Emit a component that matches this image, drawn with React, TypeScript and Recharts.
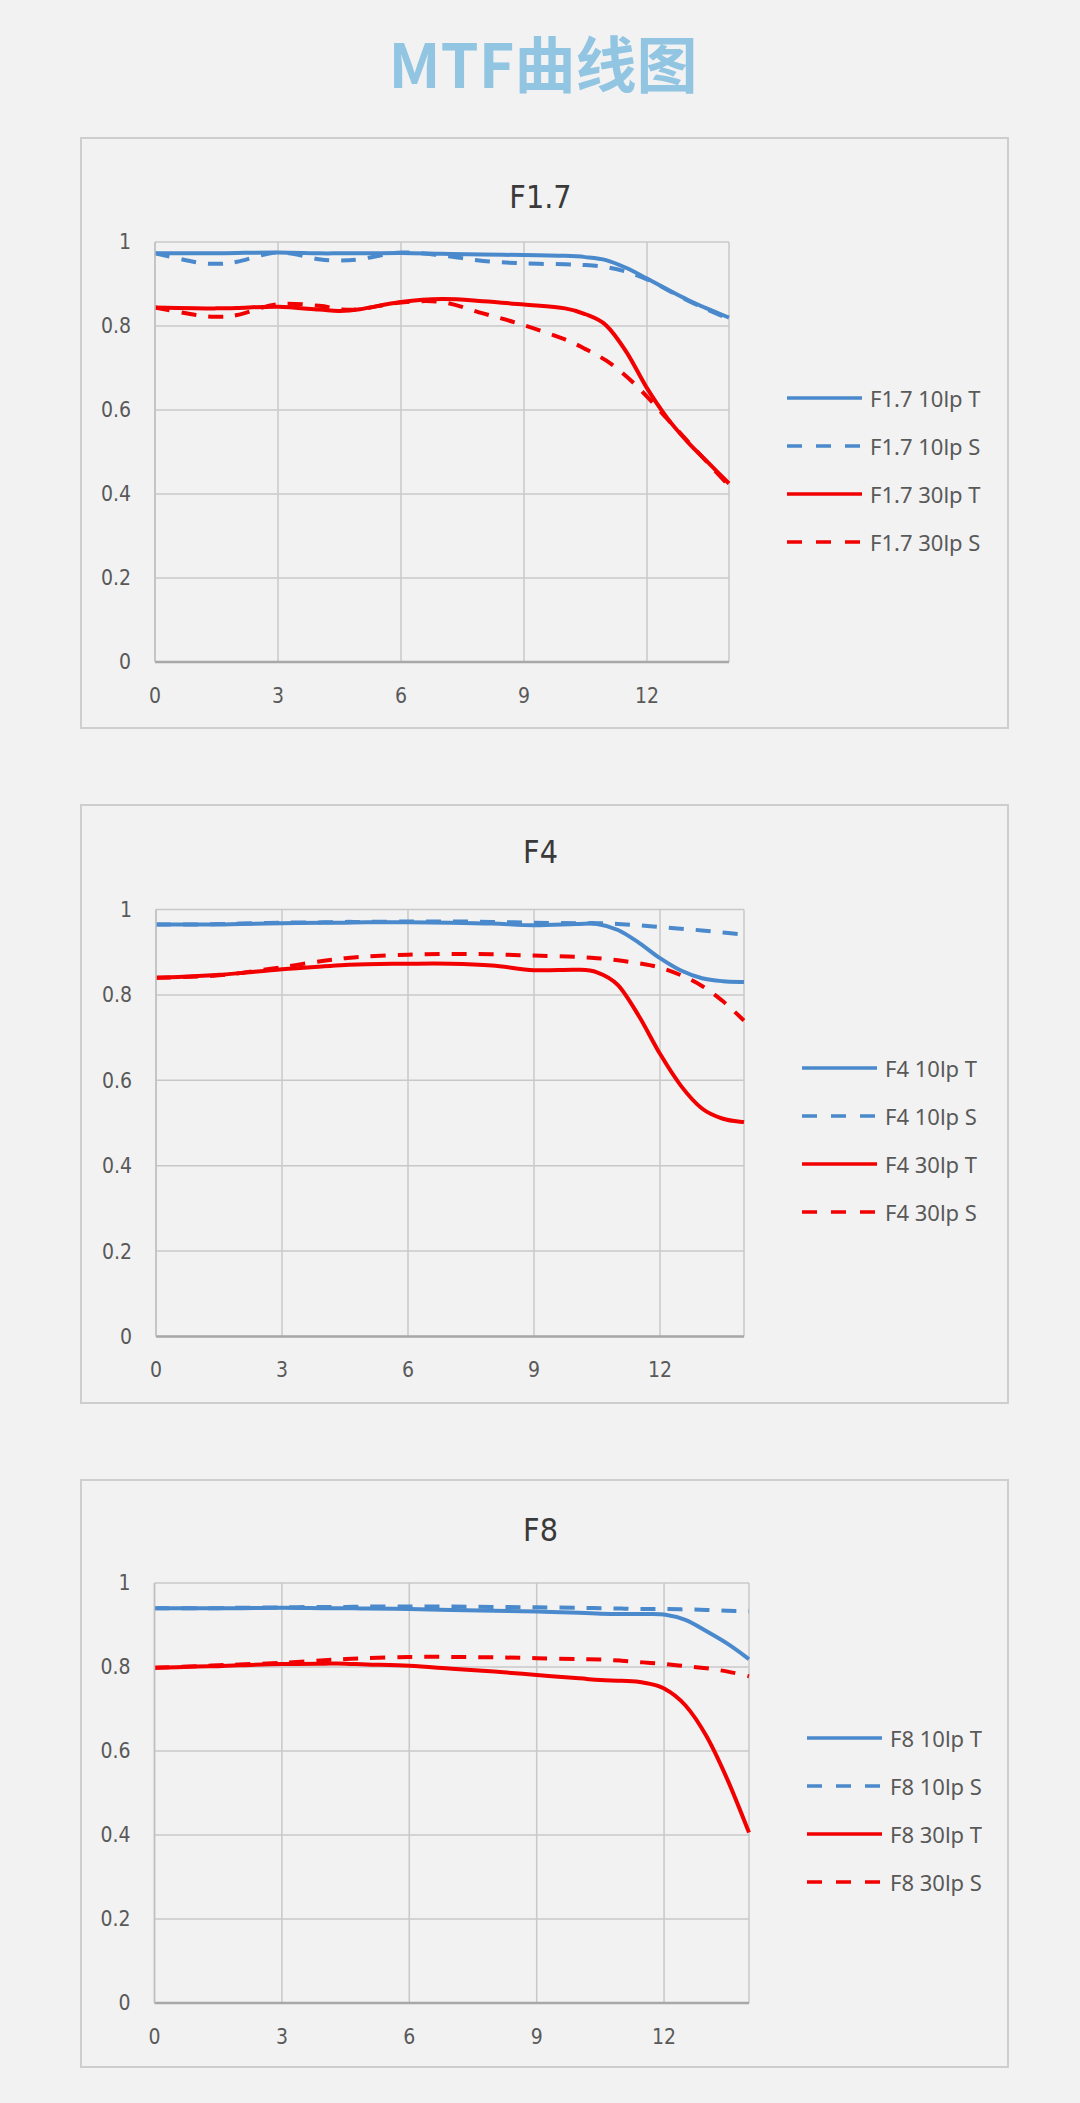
import { LineChart, Line, XAxis, YAxis, CartesianGrid, Legend } from "recharts";

// field position (mm) where each MTF value was read
const positions = [0, 1, 1.5, 2, 3, 4, 4.5, 5, 6, 7, 8, 9, 10, 10.5, 11, 11.5, 12, 12.5, 13, 13.5, 14];
const xTicks = [0, 3, 6, 9, 12];
const yTicks = [0, 0.2, 0.4, 0.6, 0.8, 1];

// F1.7
const f17Tan10 = [0.973, 0.973, 0.973, 0.974, 0.975, 0.973, 0.973, 0.973, 0.974, 0.972, 0.97, 0.969, 0.967, 0.964, 0.957, 0.938, 0.913, 0.887, 0.862, 0.84, 0.82];
const f17Sag10 = [0.973, 0.952, 0.948, 0.953, 0.975, 0.959, 0.956, 0.959, 0.975, 0.968, 0.955, 0.949, 0.947, 0.945, 0.94, 0.929, 0.911, 0.886, 0.86, 0.838, 0.816];
const f17Tan30 = [0.844, 0.842, 0.842, 0.843, 0.846, 0.839, 0.836, 0.84, 0.857, 0.864, 0.859, 0.851, 0.842, 0.828, 0.802, 0.738, 0.652, 0.58, 0.523, 0.474, 0.425];
const f17Sag30 = [0.844, 0.826, 0.822, 0.826, 0.852, 0.848, 0.84, 0.84, 0.856, 0.857, 0.83, 0.802, 0.768, 0.745, 0.718, 0.68, 0.632, 0.578, 0.525, 0.472, 0.42];

// F4
const f4Tan10 = [0.965, 0.965, 0.965, 0.966, 0.968, 0.969, 0.969, 0.97, 0.97, 0.969, 0.967, 0.963, 0.966, 0.966, 0.952, 0.922, 0.886, 0.857, 0.839, 0.832, 0.83];
const f4Sag10 = [0.965, 0.965, 0.966, 0.967, 0.969, 0.97, 0.971, 0.971, 0.972, 0.972, 0.971, 0.969, 0.968, 0.968, 0.966, 0.963, 0.959, 0.955, 0.951, 0.946, 0.941];
const f4Tan30 = [0.84, 0.844, 0.847, 0.851, 0.86, 0.867, 0.87, 0.872, 0.873, 0.873, 0.869, 0.858, 0.859, 0.853, 0.823, 0.75, 0.662, 0.587, 0.534, 0.51, 0.502];
const f4Sag30 = [0.84, 0.843, 0.846, 0.851, 0.865, 0.88, 0.886, 0.89, 0.894, 0.896, 0.895, 0.892, 0.889, 0.886, 0.881, 0.874, 0.864, 0.846, 0.821, 0.785, 0.74];

// F8
const f8Tan10 = [0.94, 0.94, 0.94, 0.94, 0.941, 0.94, 0.94, 0.939, 0.938, 0.936, 0.934, 0.932, 0.929, 0.927, 0.926, 0.926, 0.925, 0.912, 0.885, 0.855, 0.819];
const f8Sag10 = [0.94, 0.94, 0.94, 0.941, 0.942, 0.943, 0.943, 0.944, 0.944, 0.944, 0.943, 0.942, 0.941, 0.94, 0.939, 0.938, 0.938, 0.937, 0.936, 0.934, 0.933];
const f8Tan30 = [0.798, 0.801, 0.802, 0.804, 0.807, 0.808, 0.808, 0.806, 0.803, 0.796, 0.789, 0.781, 0.773, 0.769, 0.767, 0.763, 0.749, 0.709, 0.635, 0.53, 0.406];
const f8Sag30 = [0.798, 0.802, 0.804, 0.806, 0.81, 0.816, 0.819, 0.821, 0.824, 0.824, 0.823, 0.821, 0.819, 0.818, 0.815, 0.811, 0.807, 0.802, 0.797, 0.789, 0.778];

const BLUE = "#4a89cc";
const RED = "#f20000";
const TICK_FONT = '"DejaVu Sans Condensed", "DejaVu Sans", sans-serif';
const PANEL_W = 929;

// Excel-style smoothed line: Catmull-Rom through every point, emitted as beziers.
// Plugs into recharts as a d3-shape curve factory.
function smoothCurve(context: any) {
  let pts: [number, number][] = [];
  return {
    areaStart() {},
    areaEnd() {},
    lineStart() {
      pts = [];
    },
    point(x: number, y: number) {
      pts.push([+x, +y]);
    },
    lineEnd() {
      if (!pts.length) return;
      context.moveTo(pts[0][0], pts[0][1]);
      for (let i = 0; i < pts.length - 1; i++) {
        const p0 = pts[i - 1] || pts[i];
        const p1 = pts[i];
        const p2 = pts[i + 1];
        const p3 = pts[i + 2] || p2;
        context.bezierCurveTo(
          p1[0] + (p2[0] - p0[0]) / 6,
          p1[1] + (p2[1] - p0[1]) / 6,
          p2[0] - (p3[0] - p1[0]) / 6,
          p2[1] - (p3[1] - p1[1]) / 6,
          p2[0],
          p2[1]
        );
      }
    },
  };
}

type Series = { key: string; suffix: string; color: string; dashed: boolean };

const seriesDefs: Series[] = [
  { key: "t10", suffix: "10lp T", color: BLUE, dashed: false },
  { key: "s10", suffix: "10lp S", color: BLUE, dashed: true },
  { key: "t30", suffix: "30lp T", color: RED, dashed: false },
  { key: "s30", suffix: "30lp S", color: RED, dashed: true },
];

type PanelBox = {
  top: number;
  height: number;
  plotLeft: number;
  plotRight: number;
  plotTop: number;
  plotBottom: number;
  titleY: number;
  legendLeft: number;
  legendTop: number;
};

function LegendBlock({ prefix }: { prefix: string }) {
  return (
    <div style={{ fontFamily: '"Noto Sans", "Open Sans", sans-serif', fontSize: 22, color: "#595959" }}>
      {seriesDefs.map((s) => (
        <div key={s.key} style={{ height: 48, display: "flex", alignItems: "center" }}>
          <svg width={75} height={8} style={{ display: "block" }}>
            <line
              x1={0}
              y1={4}
              x2={75}
              y2={4}
              stroke={s.color}
              strokeWidth={3.5}
              strokeDasharray={s.dashed ? "15 14" : undefined}
            />
          </svg>
          <span style={{ marginLeft: 8, whiteSpace: "nowrap" }}>
            {prefix} {s.suffix}
          </span>
        </div>
      ))}
    </div>
  );
}

function MtfPanel({ prefix, values, box }: { prefix: string; values: number[][]; box: PanelBox }) {
  const data = positions.map((x, i) => ({
    x,
    t10: values[0][i],
    s10: values[1][i],
    t30: values[2][i],
    s30: values[3][i],
  }));
  const xAxisHeight = 50;
  return (
    <div style={{ position: "absolute", left: 80, top: box.top, width: PANEL_W, height: box.height }}>
      <div
        style={{
          position: "absolute",
          inset: 0,
          border: "2px solid #cecece",
          boxSizing: "border-box",
        }}
      />
      <div
        style={{
          position: "absolute",
          left: 0,
          width: 921,
          top: box.titleY - 15.4,
          textAlign: "center",
          fontFamily: TICK_FONT,
          fontSize: 32,
          lineHeight: "32px",
          color: "#3a3a3a",
        }}
      >
        {prefix}
      </div>
      <div style={{ position: "absolute", left: 0, top: 0 }}>
        <LineChart
          width={PANEL_W}
          height={box.height}
          data={data}
          margin={{
            top: box.plotTop,
            right: PANEL_W - box.plotRight,
            bottom: box.height - box.plotBottom - xAxisHeight,
            left: 0,
          }}
        >
          <CartesianGrid stroke="#c8c8c8" strokeWidth={1.5} />
          <XAxis
            dataKey="x"
            type="number"
            domain={[0, 14]}
            ticks={xTicks}
            height={xAxisHeight}
            tickSize={0}
            tickMargin={26}
            axisLine={{ stroke: "#a8a8a8", strokeWidth: 2.5 }}
            tick={{ fill: "#595959", fontSize: 21, fontFamily: TICK_FONT }}
          />
          <YAxis
            type="number"
            domain={[0, 1]}
            ticks={yTicks}
            width={box.plotLeft}
            tickSize={0}
            tickMargin={24}
            axisLine={{ stroke: "#c0c0c0", strokeWidth: 1.5 }}
            tick={{ fill: "#595959", fontSize: 21, fontFamily: TICK_FONT }}
            tickFormatter={(v: number) => String(Number(v.toFixed(1)))}
          />
          {seriesDefs.map((s) => (
            <Line
              key={s.key}
              dataKey={s.key}
              name={`${prefix} ${s.suffix}`}
              type={smoothCurve as any}
              stroke={s.color}
              strokeWidth={4}
              strokeDasharray={s.dashed ? "15 12" : undefined}
              dot={false}
              activeDot={false}
              isAnimationActive={false}
            />
          ))}
          <Legend
            layout="vertical"
            align="center"
            verticalAlign="middle"
            content={() => <LegendBlock prefix={prefix} />}
            wrapperStyle={{ left: box.legendLeft, top: box.legendTop, width: 220 }}
          />
        </LineChart>
      </div>
    </div>
  );
}

export default function App() {
  return (
    <div
      style={{
        position: "absolute",
        left: 0,
        top: 0,
        width: 1080,
        height: 2103,
        background: "#f2f2f2",
        overflow: "hidden",
      }}
    >
      <div
        style={{
          position: "absolute",
          left: 0,
          top: 31,
          width: 1086,
          textAlign: "center",
          fontFamily: '"Noto Sans CJK SC", sans-serif',
          fontWeight: 700,
          fontSize: 61,
          lineHeight: "61px",
          color: "#92c5e2",
        }}
      >
        MTF曲线图
      </div>
      <MtfPanel
        prefix="F1.7"
        values={[f17Tan10, f17Sag10, f17Tan30, f17Sag30]}
        box={{ top: 137, height: 592, plotLeft: 75, plotRight: 649, plotTop: 105, plotBottom: 525, titleY: 59.5, legendLeft: 707, legendTop: 237 }}
      />
      <MtfPanel
        prefix="F4"
        values={[f4Tan10, f4Sag10, f4Tan30, f4Sag30]}
        box={{ top: 803.5, height: 600, plotLeft: 76, plotRight: 664, plotTop: 105.5, plotBottom: 532.5, titleY: 47.5, legendLeft: 722, legendTop: 240.7 }}
      />
      <MtfPanel
        prefix="F8"
        values={[f8Tan10, f8Sag10, f8Tan30, f8Sag30]}
        box={{ top: 1478.5, height: 589, plotLeft: 74.5, plotRight: 669, plotTop: 104, plotBottom: 524, titleY: 51, legendLeft: 727, legendTop: 235 }}
      />
    </div>
  );
}
